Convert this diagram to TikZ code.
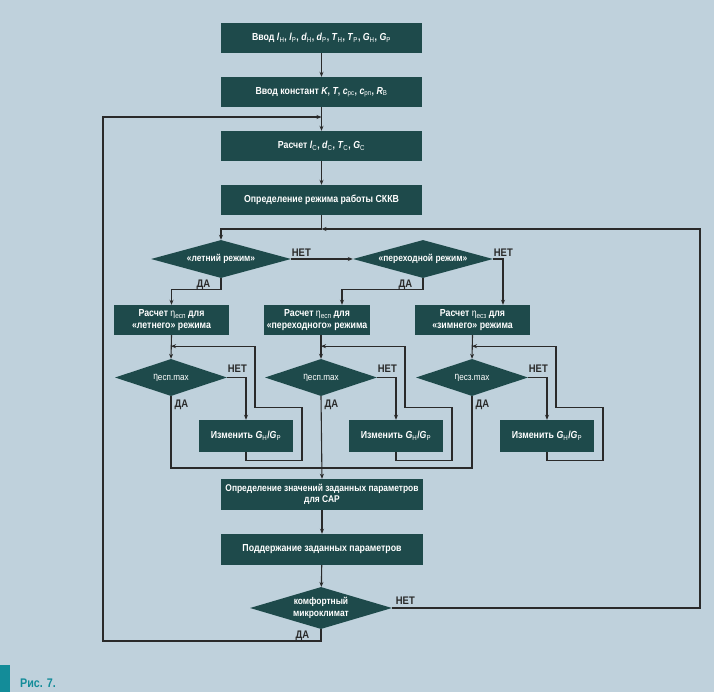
\documentclass[tikz,border=0pt]{standalone}
\usepackage{fontspec}
\setmainfont{Liberation Sans}[FakeStretch=0.86]
\usetikzlibrary{shapes.geometric,arrows.meta}
\definecolor{bgc}{HTML}{BFD1DC}
\definecolor{boxc}{HTML}{1E4A4B}
\definecolor{linec}{HTML}{2A2A2A}
\definecolor{figteal}{HTML}{138C99}
\newcommand\pv[2]{\textit{#1}\textsubscript{\mdseries #2}}
\newcommand\etas[1]{{\mdseries η\raisebox{-0.35ex}{\fontsize{7.5}{8}\selectfont #1}}}
\newcommand\etam[1]{{\mdseries η\raisebox{-0.35ex}{\fontsize{9.5}{10}\selectfont #1}}}
\begin{document}
\begin{tikzpicture}[x=1pt,y=-1pt,
  box/.style={fill=boxc, text=white, font=\bfseries\fontsize{10.2}{12}\selectfont, inner sep=0pt, minimum height=30pt, align=center},
  dia/.style={diamond, fill=boxc, text=white, font=\bfseries\fontsize{9.8}{11.5}\selectfont, inner sep=0pt, aspect=3.7, align=center},
  arr/.style={-{Stealth[length=5pt,width=4pt]}},
  ln/.style={draw=linec, line width=1.1pt},
  lab/.style={font=\bfseries\fontsize{11}{12}\selectfont, text=linec, inner sep=0.5pt}]
\fill[bgc] (0,0) rectangle (714,692);
\useasboundingbox (0,0) rectangle (714,692);
\fill[figteal] (0,665) rectangle (10,692);
\node[anchor=west, text=figteal, font=\bfseries\fontsize{12.5}{14}\selectfont, inner sep=0pt] (cap) at (20,683) {Рис. 7.};

% main column
\node[box, minimum width=201pt] (b1) at (321.5,38) {Ввод \pv{l}{Н}, \pv{l}{Р}, \pv{d}{Н}, \pv{d}{Р}, \pv{T}{Н}, \pv{T}{Р}, \pv{G}{Н}, \pv{G}{Р}};
\node[box, minimum width=201pt] (b2) at (321.5,92) {Ввод констант \textit{K}, \textit{T}, \pv{c}{рс}, \pv{c}{рп}, \pv{R}{В}};
\node[box, minimum width=201pt] (b3) at (321.5,146) {Расчет \pv{l}{С}, \pv{d}{С}, \pv{T}{С}, \pv{G}{С}};
\node[box, minimum width=201pt] (b4) at (321.5,200) {Определение режима работы СККВ};

\node[dia, minimum width=140pt, minimum height=38pt] (d1) at (221,259) {«летний режим»};
\node[dia, minimum width=140pt, minimum height=38pt] (d2) at (423,259) {«переходной режим»};

\node[box, minimum width=115pt] (bA) at (171.5,320) {Расчет \etas{есп} для\\«летнего» режима};
\node[box, minimum width=106pt] (bB) at (317,320) {Расчет \etas{есп} для\\«переходного» режима};
\node[box, minimum width=115pt] (bC) at (472.5,320) {Расчет \etas{есз} для\\«зимнего» режима};

\node[dia, minimum width=112pt, minimum height=37pt] (dA) at (171,377.5) {\etam{есп.max}};
\node[dia, minimum width=112pt, minimum height=37pt] (dB) at (321,377.5) {\etam{есп.max}};
\node[dia, minimum width=112pt, minimum height=37pt] (dC) at (472,377.5) {\etam{есз.max}};

\node[box, minimum width=94pt, minimum height=32pt] (cA) at (246,436) {Изменить \pv{G}{Н}/\pv{G}{Р}};
\node[box, minimum width=94pt, minimum height=32pt] (cB) at (396,436) {Изменить \pv{G}{Н}/\pv{G}{Р}};
\node[box, minimum width=94pt, minimum height=32pt] (cC) at (547,436) {Изменить \pv{G}{Н}/\pv{G}{Р}};

\node[box, minimum width=202pt, minimum height=31pt, font=\bfseries\fontsize{9.8}{11.5}\selectfont] (b5) at (322,494.5) {Определение значений заданных параметров\\для САР};
\node[box, minimum width=202pt, minimum height=31pt] (b6) at (322,549.5) {Поддержание заданных параметров};
\node[dia, minimum width=142pt, minimum height=42pt] (d3) at (321,608) {комфортный\\микроклимат};

\coordinate (J) at (321.5,229);
\coordinate (R1) at (700,608);
\coordinate (R2) at (700,229);
\coordinate (L1) at (103,641);
\coordinate (L2) at (103,117);
\coordinate (M) at (321,468);

% connectors
\draw[ln,arr] (b1) -- (b2);
\draw[ln,arr] (b2) -- (b3);
\draw[ln,arr] (b3) -- (b4);
\draw[ln] (b4.south) -- (J);
\draw[ln,arr] (d3.south) |- (L1) -- (L2) -- (L2 -| b3.north);
\draw[ln,arr] (d3.east) -- (R1) -- (R2) -- (J);
\draw[ln,arr] (J) -| (d1.north);
\draw[ln,arr] (d1.east) -- (d2.west);
\draw[ln,arr] (d2.east) -| ([xshift=30.5pt]bC.north);
\draw[ln,arr] (d1.south) -- ++(0,11) -| (bA.north);
\draw[ln,arr] (d2.south) -- ++(0,11) -| ([xshift=25pt]bB.north);
\draw[ln,arr] (bA.south) -- (dA.north);
\draw[ln,arr] (bB.south -| dB.north) -- (dB.north);
\draw[ln,arr] (bC.south) -- (dC.north);
\foreach \d/\c in {dA/cA, dB/cB, dC/cC} {
  \draw[ln,arr] (\d.east) -| (\c.north);
  \draw[ln,arr] (\c.south) -- ++(0,8) -- ++(56,0) -- ++(0,-53) -- ++(-47,0) -- ++(0,-61) -- ++(-84,0);
}
\draw[ln] (dA.south) |- (M);
\draw[ln] (dC.south) |- (M);
\draw[ln,arr] (dB.south) -- (b5.north);
\draw[ln,arr] (b5) -- (b6);
\draw[ln,arr] (b6) -- (d3);

% labels
\node[lab, anchor=south west] (n1) at ([yshift=1.5pt]d1.east) {НЕТ};
\node[lab, anchor=south west] (n2) at ([yshift=1.5pt]d2.east) {НЕТ};
\node[lab, anchor=south west] (nA) at ([yshift=4pt]dA.east) {НЕТ};
\node[lab, anchor=south west] (nB) at ([yshift=4pt]dB.east) {НЕТ};
\node[lab, anchor=south west] (nC) at ([yshift=4pt]dC.east) {НЕТ};
\node[lab, anchor=south west] (n3) at ([xshift=3pt,yshift=3pt]d3.east) {НЕТ};
\node[lab, anchor=north east] (y1) at ([xshift=-10pt,yshift=-1.5pt]d1.south) {ДА};
\node[lab, anchor=north east] (y2) at ([xshift=-10pt,yshift=-1.5pt]d2.south) {ДА};
\node[lab, anchor=north west] (yA) at ([xshift=3pt,yshift=-3pt]dA.south) {ДА};
\node[lab, anchor=north west] (yB) at ([xshift=3pt,yshift=-3pt]dB.south) {ДА};
\node[lab, anchor=north west] (yC) at ([xshift=3pt,yshift=-3pt]dC.south) {ДА};
\node[lab, anchor=north east] (y3) at ([xshift=-11pt,yshift=-1.5pt]d3.south) {ДА};
\end{tikzpicture}
\end{document}
